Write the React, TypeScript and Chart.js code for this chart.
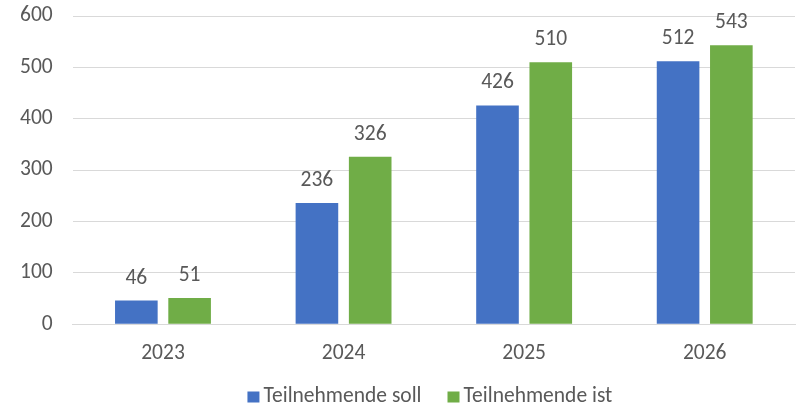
import React, { useEffect, useRef } from "react";
import { Chart, registerables } from "chart.js";

Chart.register(...registerables);

const categories = ["2023", "2024", "2025", "2026"];
const sollValues = [46, 236, 426, 512];
const istValues = [51, 326, 510, 543];
const seriesNames = ["Teilnehmende soll", "Teilnehmende ist"];
const seriesColors = ["#4472C4", "#70AD47"];
const yTicks = { min: 0, max: 600, step: 100 };

const FONT = "Carlito, Calibri, Lato, 'Noto Sans', sans-serif";
const TEXT = "#595959";
const FS = 21.5;

const valueLabels = {
  id: "valueLabels",
  afterDatasetsDraw(chart: any) {
    const ctx = chart.ctx;
    ctx.save();
    ctx.font = `${FS}px ${FONT}`;
    ctx.fillStyle = TEXT;
    ctx.textAlign = "center";
    ctx.textBaseline = "alphabetic";
    chart.data.datasets.forEach((ds: any, i: number) => {
      const meta = chart.getDatasetMeta(i);
      meta.data.forEach((bar: any, j: number) => {
        ctx.fillText(String(ds.data[j]), bar.x, bar.y - 17);
      });
    });
    ctx.restore();
  },
};

const bottomLegend = {
  id: "bottomLegend",
  afterDraw(chart: any) {
    const ctx = chart.ctx;
    const area = chart.chartArea;
    ctx.save();
    ctx.font = `${FS}px ${FONT}`;
    ctx.textBaseline = "middle";
    ctx.textAlign = "left";
    const boxW = 12;
    const boxH = 11;
    const gapText = 4;
    const gapItem = 26;
    const widths = chart.data.datasets.map((ds: any) => boxW + gapText + ctx.measureText(ds.label).width);
    const total = widths.reduce((a: number, b: number) => a + b, 0) + gapItem * (widths.length - 1);
    let x = (area.left + area.right) / 2 - total / 2 - 4;
    const cy = chart.height - 10;
    chart.data.datasets.forEach((ds: any, i: number) => {
      ctx.fillStyle = ds.backgroundColor;
      ctx.fillRect(x, cy - boxH / 2, boxW, boxH);
      ctx.fillStyle = TEXT;
      ctx.fillText(ds.label, x + boxW + gapText, cy);
      x += widths[i] + gapItem;
    });
    ctx.restore();
  },
};

export default function App() {
  const ref = useRef<HTMLCanvasElement>(null);
  useEffect(() => {
    if (!ref.current) return;
    const chart = new Chart(ref.current, {
      type: "bar",
      data: {
        labels: categories,
        datasets: [
          {
            label: seriesNames[0],
            data: sollValues,
            backgroundColor: seriesColors[0],
            categoryPercentage: 0.59,
            barPercentage: 0.8,
          },
          {
            label: seriesNames[1],
            data: istValues,
            backgroundColor: seriesColors[1],
            categoryPercentage: 0.59,
            barPercentage: 0.8,
          },
        ],
      },
      options: {
        animation: false,
        responsive: false,
        maintainAspectRatio: false,
        layout: { padding: { top: 16, right: 6, left: 0, bottom: 23 } },
        plugins: {
          tooltip: { enabled: false },
          legend: { display: false },
        },
        scales: {
          x: {
            grid: { display: false, drawTicks: false },
            border: { display: true, color: "#d9d9d9" },
            ticks: { color: TEXT, font: { family: FONT, size: FS }, padding: 17 },
          },
          y: {
            min: yTicks.min,
            max: yTicks.max,
            grid: { color: "#d9d9d9", drawTicks: false },
            border: { display: false },
            ticks: {
              stepSize: yTicks.step,
              color: TEXT,
              font: { family: FONT, size: FS },
              padding: 20,
            },
            afterFit(scale: any) {
              scale.paddingTop = 0;
              scale.paddingBottom = 0;
            },
          },
        },
      },
      plugins: [valueLabels, bottomLegend],
    });
    return () => chart.destroy();
  }, []);
  return (
    <div style={{ position: "fixed", left: 0, top: 0, width: 801, height: 407, background: "#fff" }}>
      <canvas ref={ref} width={801} height={407} style={{ width: 801, height: 407 }} />
    </div>
  );
}
